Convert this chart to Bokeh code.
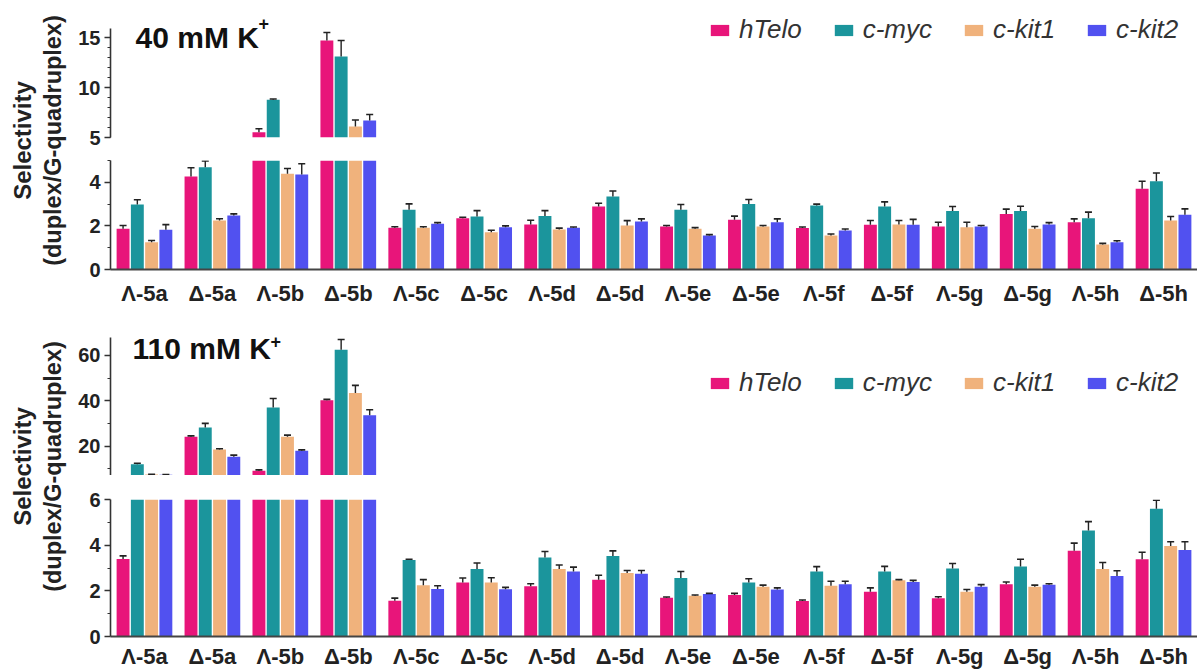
import numpy as np
from bokeh.plotting import figure
from bokeh.layouts import column, row
from bokeh.models import FixedTicker, Label, Range1d, ColumnDataSource
from bokeh.embed import file_html
from bokeh.resources import INLINE

# ---------------- data ----------------
labels = ["Λ-5a", "Δ-5a", "Λ-5b", "Δ-5b", "Λ-5c", "Δ-5c", "Λ-5d", "Δ-5d",
          "Λ-5e", "Δ-5e", "Λ-5f", "Δ-5f", "Λ-5g", "Δ-5g", "Λ-5h", "Δ-5h"]
series = ["hTelo", "c-myc", "c-kit1", "c-kit2"]
colors = ["#E8157A", "#1B959C", "#F0B27C", "#5151F0"]

# 40 mM K+
k40_htelo = [1.87, 4.27, 5.53, 14.7, 1.91, 2.35, 2.06, 2.89, 1.97, 2.28, 1.90, 2.05, 1.97, 2.55, 2.17, 3.70]
k40_htelo_err = [0.15, 0.40, 0.35, 0.80, 0.05, 0.05, 0.20, 0.15, 0.05, 0.17, 0.05, 0.20, 0.20, 0.22, 0.15, 0.35]
k40_cmyc = [2.98, 4.69, 8.77, 13.1, 2.74, 2.43, 2.45, 3.35, 2.74, 3.01, 2.94, 2.89, 2.68, 2.68, 2.35, 4.05]
k40_cmyc_err = [0.22, 0.29, 0.08, 1.60, 0.27, 0.27, 0.25, 0.25, 0.24, 0.20, 0.06, 0.21, 0.21, 0.22, 0.28, 0.38]
k40_ckit1 = [1.25, 2.25, 4.39, 6.10, 1.91, 1.71, 1.83, 2.02, 1.87, 1.97, 1.56, 2.06, 1.94, 1.87, 1.15, 2.25]
k40_ckit1_err = [0.08, 0.08, 0.24, 0.65, 0.05, 0.09, 0.07, 0.22, 0.05, 0.05, 0.07, 0.19, 0.23, 0.10, 0.05, 0.18]
k40_ckit2 = [1.82, 2.48, 4.36, 6.70, 2.10, 1.94, 1.91, 2.20, 1.56, 2.17, 1.79, 2.05, 1.97, 2.06, 1.25, 2.51]
k40_ckit2_err = [0.24, 0.07, 0.49, 0.60, 0.05, 0.06, 0.04, 0.12, 0.04, 0.15, 0.07, 0.25, 0.05, 0.09, 0.07, 0.27]

# 110 mM K+
k110_htelo = [3.39, 24.1, 9.1, 40.2, 1.57, 2.36, 2.20, 2.49, 1.70, 1.82, 1.56, 1.96, 1.67, 2.29, 3.76, 3.38]
k110_htelo_err = [0.14, 0.40, 0.40, 0.40, 0.11, 0.20, 0.11, 0.19, 0.03, 0.07, 0.04, 0.17, 0.07, 0.10, 0.33, 0.31]
k110_cmyc = [12.0, 28.2, 37.0, 62.5, 3.35, 2.96, 3.46, 3.53, 2.56, 2.36, 2.85, 2.85, 2.98, 3.07, 4.64, 5.60]
k110_cmyc_err = [0.40, 1.80, 4.00, 4.50, 0.03, 0.26, 0.26, 0.22, 0.29, 0.17, 0.21, 0.22, 0.22, 0.31, 0.39, 0.37]
k110_ckit1 = [7.4, 18.5, 24.1, 43.4, 2.25, 2.36, 2.96, 2.78, 1.79, 2.18, 2.22, 2.46, 1.96, 2.18, 2.96, 3.96]
k110_ckit1_err = [0.10, 0.30, 0.70, 3.40, 0.24, 0.21, 0.17, 0.11, 0.03, 0.07, 0.20, 0.03, 0.10, 0.07, 0.28, 0.19]
k110_ckit2 = [7.3, 15.3, 17.9, 33.6, 2.08, 2.07, 2.85, 2.75, 1.86, 2.06, 2.29, 2.39, 2.18, 2.27, 2.65, 3.79]
k110_ckit2_err = [0.10, 0.70, 0.40, 2.40, 0.14, 0.08, 0.19, 0.14, 0.03, 0.07, 0.13, 0.07, 0.09, 0.04, 0.23, 0.36]

k40 = [(k40_htelo, k40_htelo_err), (k40_cmyc, k40_cmyc_err), (k40_ckit1, k40_ckit1_err), (k40_ckit2, k40_ckit2_err)]
k110 = [(k110_htelo, k110_htelo_err), (k110_cmyc, k110_cmyc_err), (k110_ckit1, k110_ckit1_err), (k110_ckit2, k110_ckit2_err)]

FONT = "Liberation Sans"
offsets = [-0.315, -0.105, 0.105, 0.315]
BAR_W = 0.19
TITLE_W = 75
FIG_W = 1122
LEFT_B = 35


def style_yaxis(p, ticks, minor, bounds):
    ax = p.yaxis[0]
    ax.ticker = FixedTicker(ticks=ticks, minor_ticks=minor)
    ax.bounds = bounds
    ax.axis_line_color = "#333333"
    ax.axis_line_width = 1.6
    ax.major_tick_line_color = "#333333"
    ax.major_tick_line_width = 1.6
    ax.minor_tick_line_color = "#333333"
    ax.minor_tick_line_width = 1.2
    ax.major_tick_out = 6
    ax.major_tick_in = 0
    ax.minor_tick_out = 3
    ax.minor_tick_in = 0
    ax.major_label_text_font = FONT
    ax.major_label_text_font_style = "bold"
    ax.major_label_text_font_size = "20px"
    ax.major_label_text_color = "#222222"
    ax.major_label_standoff = 4


def style_xaxis(p, standoff):
    ax = p.xaxis[0]
    ax.ticker = FixedTicker(ticks=list(range(len(labels))))
    ax.major_label_overrides = {i: lab for i, lab in enumerate(labels)}
    ax.axis_line_color = "#444444"
    ax.axis_line_width = 2
    ax.major_tick_out = 0
    ax.major_tick_in = 0
    ax.minor_tick_out = 0
    ax.minor_tick_in = 0
    ax.major_label_text_font = FONT
    ax.major_label_text_font_style = "bold"
    ax.major_label_text_font_size = "22px"
    ax.major_label_text_color = "#222222"
    ax.major_label_standoff = standoff


def make_seg(data, yr, height, btop, bbot, with_x, legend, upper):
    p = figure(width=FIG_W, height=height, output_backend="svg", toolbar_location=None,
               x_range=Range1d(-0.5, len(labels) - 0.5), y_range=Range1d(*yr),
               x_axis_location="below" if with_x else None,
               min_border=0, min_border_left=LEFT_B, min_border_right=0,
               min_border_top=btop, min_border_bottom=bbot)
    p.outline_line_color = None
    p.xgrid.visible = False
    p.ygrid.visible = False
    p.background_fill_color = "white"
    base = yr[0] if upper else 0
    for k, ((vals, errs), name, col) in enumerate(zip(data, series, colors)):
        xs = np.arange(len(labels)) + offsets[k]
        v = np.array(vals)
        e = np.array(errs)
        keep = v > yr[0] if upper else np.ones(len(v), dtype=bool)
        src = ColumnDataSource(dict(x=xs[keep], top=v[keep], up=(v + e)[keep]))
        kw = dict(legend_label=name) if legend else {}
        p.vbar(x="x", top="top", bottom=base, width=BAR_W, source=src,
               fill_color=col, line_color=None, **kw)
        p.segment(x0="x", y0="top", x1="x", y1="up", source=src, line_color="#222222", line_width=1.4)
        p.scatter(x="x", y="up", source=src, marker="dash", size=7, line_color="#222222", line_width=1.6)
    return p


def style_legend(p, loc):
    lg = p.legend[0]
    lg.orientation = "horizontal"
    lg.location = loc
    lg.label_text_font = FONT
    lg.label_text_font_style = "italic"
    lg.label_text_font_size = "26px"
    lg.label_text_color = "#333333"
    lg.glyph_width = 23
    lg.glyph_height = 14
    lg.label_standoff = 8
    lg.spacing = 30
    lg.padding = 0
    lg.margin = 0
    lg.border_line_color = None
    lg.background_fill_alpha = 0


def panel_label(p, x, y, txt):
    p.add_layout(Label(x=x, y=y, x_units="screen", y_units="screen", text=txt,
                       text_font=FONT, text_font_style="bold", text_font_size="30px",
                       text_baseline="alphabetic", text_color="#111111"))


def sup_label(p, x, y):
    p.add_layout(Label(x=x, y=y, x_units="screen", y_units="screen", text="+",
                       text_font=FONT, text_font_style="bold", text_font_size="18px",
                       text_baseline="alphabetic", text_color="#111111"))


def title_fig(height, yc):
    t = figure(width=TITLE_W, height=height, output_backend="svg", toolbar_location=None,
               x_axis_location=None, y_axis_location=None, min_border=0,
               x_range=Range1d(0, 1), y_range=Range1d(0, 1))
    t.outline_line_color = None
    t.xgrid.visible = False
    t.ygrid.visible = False
    for xx, txt, fs in [(22, "Selectivity", "24px"), (52, "(duplex/G-quadruplex)", "23.5px")]:
        t.add_layout(Label(x=xx, y=yc, x_units="screen", y_units="screen", text=txt,
                           angle=np.pi / 2, text_align="center", text_baseline="middle",
                           text_font=FONT, text_font_style="bold", text_font_size=fs,
                           text_color="#222222"))
    return t


# ---------- top panel (40 mM) ----------
A = make_seg(k40, (5, 17.5), 150, 12, 13, False, True, True)
style_yaxis(A, [5, 10, 15], list(range(5, 16)), (5, 15.9))
style_legend(A, (598, 92))
panel_label(A, 25, 100, "40 mM K")
sup_label(A, 148, 114)

B = make_seg(k40, (0, 5), 164, 10, 45, True, False, False)
style_yaxis(B, [0, 2, 4], [1, 3, 5], (0, 5))
style_xaxis(B, 11)

# ---------- bottom panel (110 mM) ----------
C = make_seg(k110, (7, 71), 161, 16, 0, False, True, True)
style_yaxis(C, [20, 40, 60], [10, 30, 50], (7, 68))
style_legend(C, (598, 77))
panel_label(C, 22, 127, "110 mM K")
sup_label(C, 160, 134)

D = make_seg(k110, (0, 6), 196, 24, 32, True, False, False)
style_yaxis(D, [0, 2, 4, 6], [1, 3, 5], (0, 6))
style_xaxis(D, 7)

tTop = title_fig(314, 174)
tBot = title_fig(357, 205)

layout = column(row(tTop, column(A, B, spacing=0), spacing=0),
                row(tBot, column(C, D, spacing=0), spacing=0), spacing=0)

open("out.html", "w").write(file_html(layout, INLINE))
